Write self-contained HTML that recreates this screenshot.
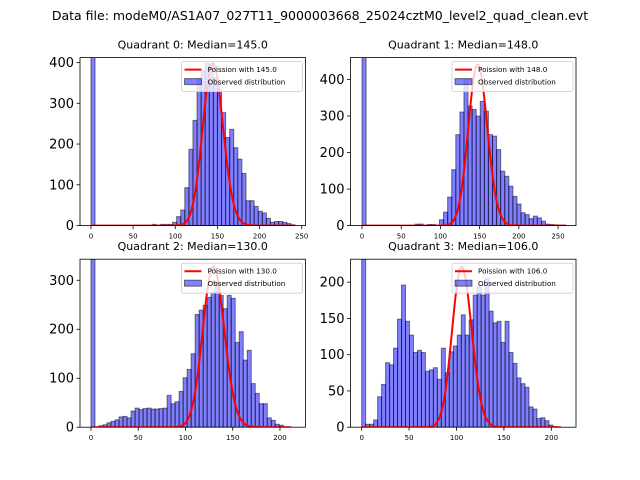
<!DOCTYPE html>
<html><head><meta charset="utf-8"><style>
body{margin:0;background:#fff;}
svg{display:block;font-family:"DejaVu Sans","Liberation Sans",sans-serif;}
</style></head><body>
<svg id="fig" width="640" height="480" viewBox="0 0 640 480" xmlns="http://www.w3.org/2000/svg">
<rect width="640" height="480" fill="#fff"/>
<text x="320" y="20" font-size="12.5" text-anchor="middle">Data file: modeM0/AS1A07_027T11_9000003668_25024cztM0_level2_quad_clean.evt</text>
</svg>
<script>
const titles = ["Quadrant 0: Median=145.0","Quadrant 1: Median=148.0","Quadrant 2: Median=130.0","Quadrant 3: Median=106.0"];
const medians = [145, 148, 130, 106];
const dataMax = [242, 260, 212, 210];
const poissonPeak = [398, 441, 327, 221];
const q0Counts = [2000,0,0,0,0,0,0,0,0,0,0,0,0,0,0,3,0,3,3,3,8,22,38,93,187,258,360,380,398,395,363,334,277,216,236,191,163,128,61,61,47,35,31,18,8,10,10,8,5,2];
const q1Counts = [2000,0,0,0,0,0,0,0,0,0,0,0,0,4,4,0,3,3,0,16,37,78,153,249,311,400,327,318,300,340,313,249,245,208,149,135,108,80,59,35,30,19,26,21,12,4,3,2,1,1];
const q2Counts = [2000,0,3,5,9,12,15,21,22,19,33,39,36,38,39,37,37,38,39,65,48,52,73,101,118,150,230,239,249,265,275,297,269,242,269,263,173,195,137,157,89,69,48,48,19,14,6,4,1,0];
const q3Counts = [2000,4,4,10,42,59,89,86,109,149,196,146,127,103,106,103,77,79,82,66,109,75,104,112,127,155,127,148,182,194,182,205,160,144,146,117,146,103,88,68,60,55,28,25,12,13,9,3,1,0];
const xTicks = [[0,50,100,150,200,250],[0,50,100,150,200,250],[0,50,100,150,200],[0,50,100,150,200]];
const yTicks = [[0,100,200,300,400],[0,100,200,300,400],[0,100,200,300],[0,50,100,150,200]];
const xLims = [[-13,254.5],[-14.7,272.9],[-11.6,227],[-11.8,226]];
const yLims = [[0,412],[0,460],[0,343],[0,231.7]];
const allCounts = [q0Counts,q1Counts,q2Counts,q3Counts];

const NS="http://www.w3.org/2000/svg";
const svg=document.getElementById('fig');
function mk(tag,attrs,parent){const e=document.createElementNS(NS,tag);for(const k in attrs)e.setAttribute(k,attrs[k]);(parent||svg).appendChild(e);return e;}
function lgamma(x){
  if(x<7){let p=1;while(x<7){p*=x;x+=1;}return lgamma(x)-Math.log(p);}
  return (x-0.5)*Math.log(x)-x+0.5*Math.log(2*Math.PI)+1/(12*x)-1/(360*x*x*x)+1/(1260*Math.pow(x,5));
}
function logPois(k,m){return k*Math.log(m)-m-lgamma(k+1);}

const boxes=[[80,57.6],[350.5,57.6],[80,259.2],[350.5,259.2]];
const W=225.5,H=168;
for(let q=0;q<4;q++){
  const [L,T]=boxes[q];
  const g=mk('g',{});
  
  
  const xs=v=>L+(v-xLims[q][0])/(xLims[q][1]-xLims[q][0])*W;
  const ys=v=>T+H-(v-yLims[q][0])/(yLims[q][1]-yLims[q][0])*H;
  const cp=mk('clipPath',{id:'clip'+q},g);
  mk('rect',{x:L,y:T,width:W,height:H},cp);
  const plot=mk('g',{'clip-path':'url(#clip'+q+')'},g);
  const counts=allCounts[q];
  const bw=dataMax[q]/counts.length;
  counts.forEach((c,i)=>{
    if(c<=0)return;
    const x0=xs(i*bw),x1=xs((i+1)*bw);
    const r=mk('rect',{x:x0,y:ys(c),width:x1-x0,height:ys(0)-ys(c),fill:'rgba(0,0,255,0.5)',stroke:'rgba(0,0,0,0.5)','stroke-width':1},plot);
    
    
  });
  const m=medians[q];
  const mode=Math.floor(m);
  const lm=logPois(mode,m);
  let d='';
  for(let k=0;k<=dataMax[q];k++){
    const v=poissonPeak[q]*Math.exp(logPois(k,m)-lm);
    d+=(k?'L':'M')+xs(k).toFixed(2)+' '+ys(v).toFixed(2);
  }
  const pl=mk('path',{d:d,fill:'none',stroke:'#ff0000','stroke-width':2},plot);
  
  
  const fr=mk('rect',{x:L,y:T,width:W,height:H,fill:'none',stroke:'#000','stroke-width':0.8},g);
  
  
  xTicks[q].forEach(t=>{
    mk('line',{x1:xs(t),x2:xs(t),y1:T+H,y2:T+H+3.5,stroke:'#000','stroke-width':0.8},g);
    const tx=mk('text',{x:xs(t),y:T+H+13,'font-size':7,'text-anchor':'middle'},g);
    tx.textContent=t;
    
    
  });
  yTicks[q].forEach(t=>{
    mk('line',{x1:L-3.5,x2:L,y1:ys(t),y2:ys(t),stroke:'#000','stroke-width':0.8},g);
    const tx=mk('text',{x:L-6,y:ys(t)+4.5,'font-size':13,'text-anchor':'end'},g);
    tx.textContent=t;
    
    
  });
  const ti=mk('text',{x:L+W/2,y:T-9,'font-size':11,'text-anchor':'middle'},g);
  ti.textContent=titles[q];
  
  
  const lg=mk('g',{},g);
  
  
  const lx=L+W-124,ly=T+4;
  mk('rect',{x:lx,y:ly,width:121,height:30,rx:2,fill:'rgba(255,255,255,0.8)',stroke:'#ccc','stroke-width':0.8},lg);
  mk('line',{x1:lx+3,x2:lx+20,y1:ly+8,y2:ly+8,stroke:'#ff0000','stroke-width':2},lg);
  const t1=mk('text',{x:lx+26,y:ly+10.5,'font-size':7.2},lg);
  t1.textContent='Poission with '+medians[q].toFixed(1);
  
  
  mk('rect',{x:lx+3,y:ly+17,width:17,height:6,fill:'rgba(0,0,255,0.5)',stroke:'rgba(0,0,0,0.5)','stroke-width':1},lg);
  const t2=mk('text',{x:lx+26,y:ly+23,'font-size':7.2},lg);
  t2.textContent='Observed distribution';
  
  
}
</script>
</body></html>
